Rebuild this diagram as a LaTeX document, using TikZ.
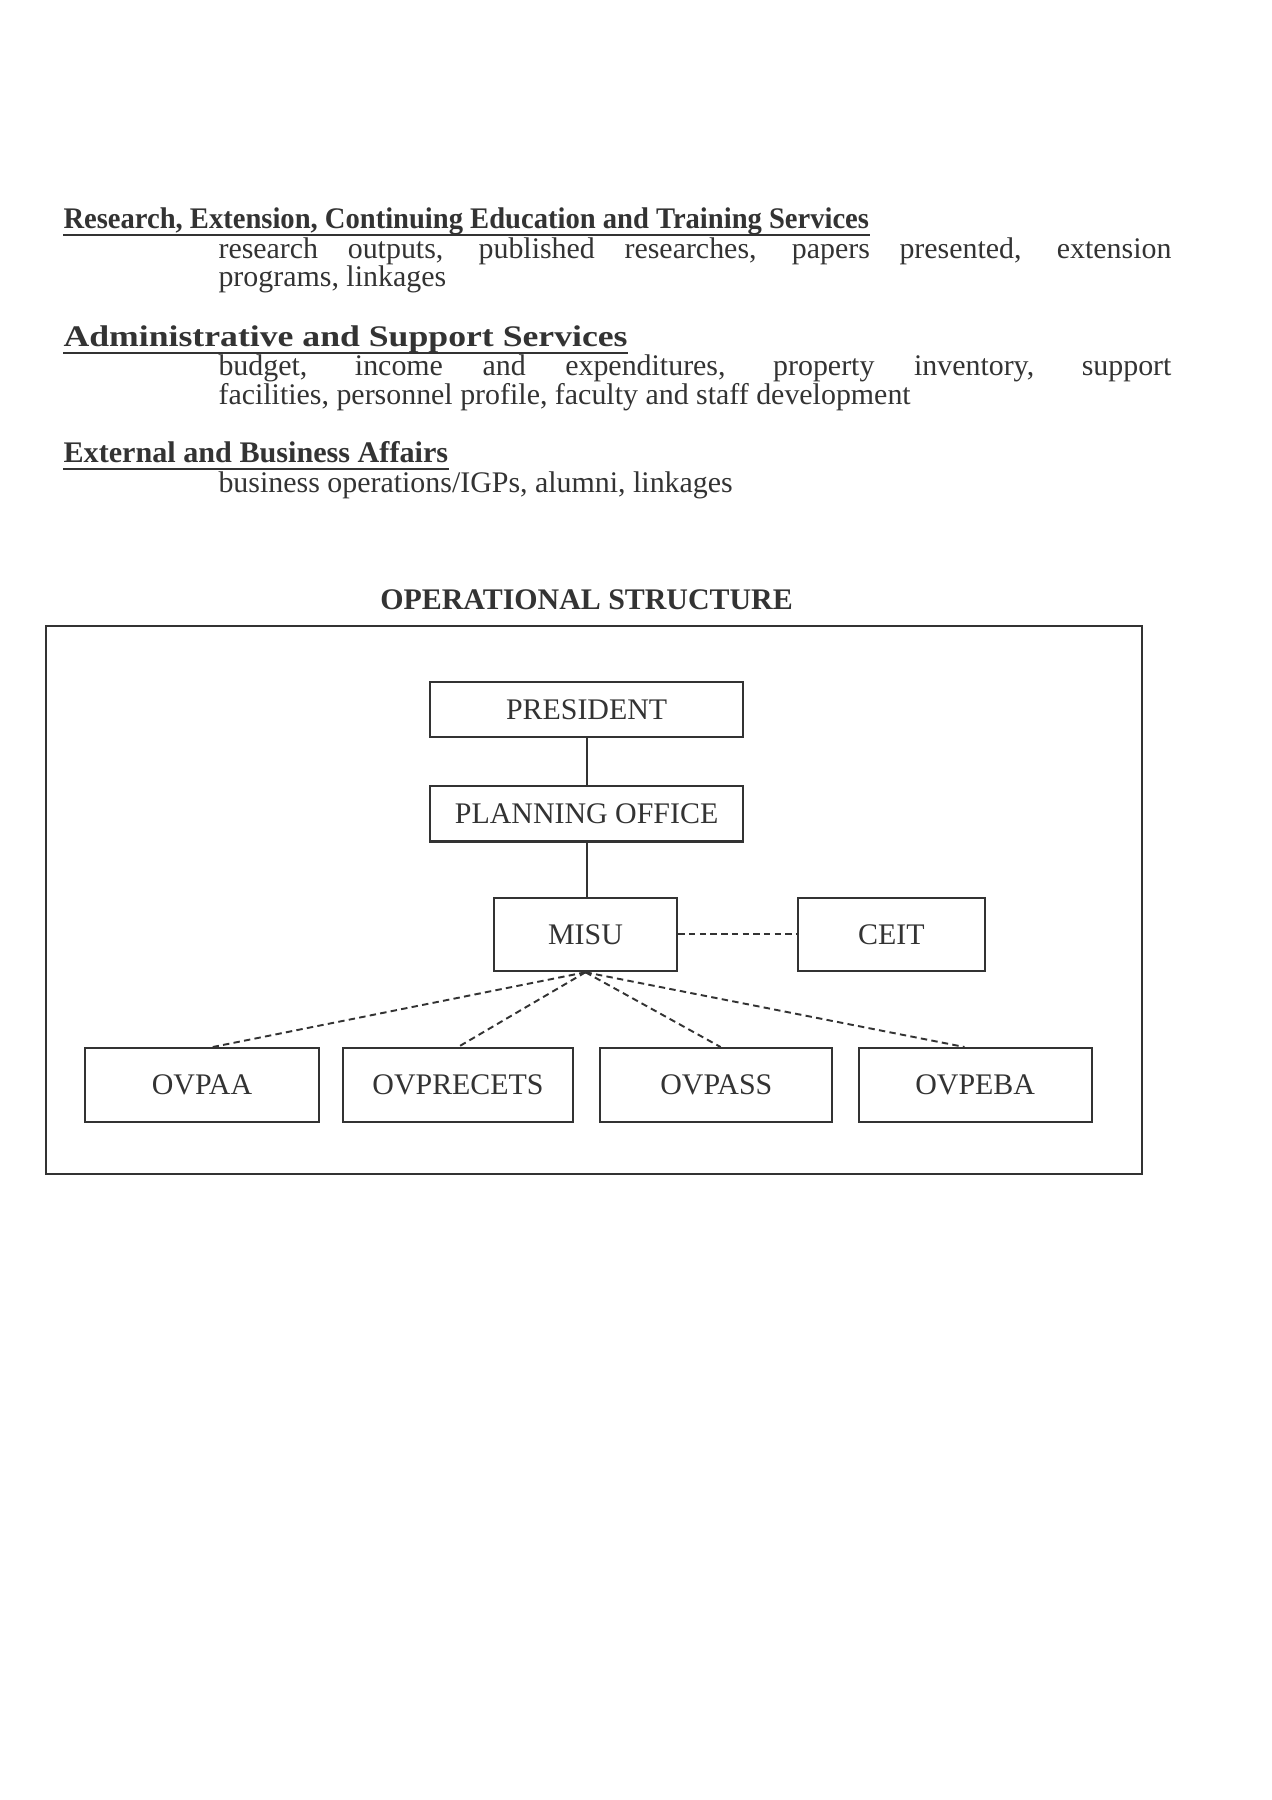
\documentclass[tikz,border=0pt]{standalone}
\usepackage{fontspec}
\setmainfont{Liberation Serif}
\usepackage{graphicx}
\usetikzlibrary{positioning}
\definecolor{ink}{HTML}{333333}
\begin{document}
\begin{tikzpicture}[x=0.5373pt,y=-0.5373pt,
  txt/.style={inner sep=0pt, text=ink, font=\fontsize{14}{16}\selectfont, anchor=base west},
  head/.style={txt, font=\fontsize{14}{16}\selectfont\bfseries},
  uline/.style={draw=ink, line width=1pt},
  orgbox/.style={draw=ink, line width=1pt, text=ink, inner sep=0pt,
    font=\fontsize{14}{16}\selectfont},
  link/.style={draw=ink, line width=1pt},
  dlink/.style={draw=ink, line width=0.9pt, dash pattern=on 3pt off 2pt}]
\useasboundingbox (0,0) rectangle (1108,1568);
\fill[white] (0,0) rectangle (1108,1568);

% ---- text section ----
\node[head] (h1) at (55,199) {\resizebox{377pt}{\height}{Research, Extension, Continuing Education and Training Services}};
\draw[uline] ([yshift=-3pt]h1.base west) -- ([yshift=-3pt]h1.base east);
\node[txt] (b1a) at (190,225) {\makebox[446pt][s]{research outputs, published researches, papers presented, extension}};
\node[txt] (b1b) at (190,250) {programs, linkages};

\node[head] (h2) at (55,302) {\resizebox{264pt}{\height}{Administrative and Support Services}};
\draw[uline] ([yshift=-3pt]h2.base west) -- ([yshift=-3pt]h2.base east);
\node[txt] (b2a) at (190,327) {\makebox[446pt][s]{budget, income and expenditures, property inventory, support}};
\node[txt] (b2b) at (190,352) {facilities, personnel profile, faculty and staff development};

\node[head] (h3) at (55,403) {\resizebox{180pt}{\height}{External and Business Affairs}};
\draw[uline] ([yshift=-3pt]h3.base west) -- ([yshift=-3pt]h3.base east);
\node[txt] (b3) at (190,429) {business operations/IGPs, alumni, linkages};

% ---- operational structure ----
\node[txt, anchor=base, font=\fontsize{14}{16}\selectfont\bfseries] (title) at (511,531) {OPERATIONAL STRUCTURE};
\draw[draw=ink, line width=1pt] (40,545) rectangle (995,1023);

\node[orgbox, minimum width=146.7pt, minimum height=25.8pt] (pres) at (511,618) {PRESIDENT};
\node[orgbox, minimum width=146.7pt, minimum height=25.8pt] (plan) at (511,709) {PLANNING OFFICE};
\node[orgbox, minimum width=86pt, minimum height=34.4pt] (misu) at (510,814) {MISU};
\node[orgbox, minimum width=87.6pt, minimum height=34.4pt] (ceit) at (776.5,814) {CEIT};
\node[orgbox, minimum width=109.6pt, minimum height=34.4pt] (ovpaa) at (176,945) {OVPAA};
\node[orgbox, minimum width=107.5pt, minimum height=34.4pt] (ovprecets) at (399,945) {OVPRECETS};
\node[orgbox, minimum width=108.5pt, minimum height=34.4pt] (ovpass) at (624,945) {OVPASS};
\node[orgbox, minimum width=109.1pt, minimum height=34.4pt] (ovpeba) at (849.5,945) {OVPEBA};

\draw[link] (pres.south) -- (plan.north);
\draw[link] (plan.south) -- (plan.south |- misu.north);
\draw[dlink] (misu.east) -- (ceit.west);
\draw[dlink] (misu.south) -- ([xshift=5pt]ovpaa.north);
\draw[dlink] (misu.south) -- (ovprecets.north);
\draw[dlink] (misu.south) -- ([xshift=2pt]ovpass.north);
\draw[dlink] (misu.south) -- ([xshift=-5pt]ovpeba.north);
\end{tikzpicture}
\end{document}
